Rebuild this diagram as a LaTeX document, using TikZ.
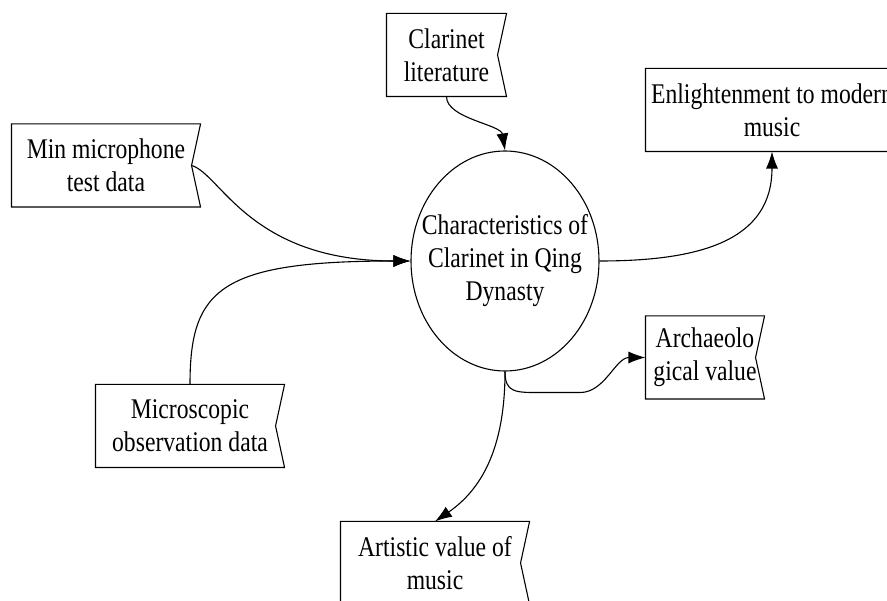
\documentclass[tikz,border=0pt]{standalone}
\usepackage{fontspec}
\setmainfont[FakeStretch=0.83]{Liberation Serif}
\usetikzlibrary{arrows.meta, calc, shapes.geometric}

\begin{document}
\begin{tikzpicture}[
    x=1pt, y=-1pt, % pixel units, y going down
    >={Latex[length=17pt, width=12pt]}, % filled arrow tips
    line width=1.1pt,
    boxtext/.style={align=center, font=\fontsize{28.5}{33}\selectfont},
    flagbox/.style={boxtext, rectangle, inner sep=0pt, minimum height=82pt},
    arrowstyle/.style={->}
]

    % Frame of the picture
    \useasboundingbox (0,0) rectangle (887,601);
    \clip (0,0) rectangle (887,601);

    % Data sources and results (flag shaped boxes)
    \node[flagbox, minimum width=188pt] (mic) at (106,165.5) {Min microphone\\test data};
    \node[flagbox, minimum width=119pt] (lit) at (446.5,55) {Clarinet\\literature};
    \node[flagbox, minimum width=252pt] (enl) at (772,110) {Enlightenment to modern\\music};
    \node[flagbox, minimum width=118pt] (arc) at (705,357.5) {Archaeolo\\gical value};
    \node[flagbox, minimum width=188pt] (obs) at (190,426) {Microscopic\\observation data};
    \node[flagbox, minimum width=188pt] (art) at (435,563) {Artistic value of\\music};

    % Central process
    \node[draw, ellipse, boxtext, inner xsep=-22pt, inner ysep=0pt,
          minimum width=188pt, minimum height=220pt] (qing) at (505,261)
        {Characteristics of\\Clarinet in Qing\\Dynasty};

    % Flag outlines, notch on the right side
    \foreach \n in {mic, lit, enl, arc, obs, art}
        \draw (\n.north west) -- (\n.north east) -- ($(\n.east)+(-9,0)$) -- (\n.south east) -- (\n.south west) -- cycle;

    \coordinate (mic-notch) at ($(mic.east)+(-9,0)$);

    % Inputs
    \draw[arrowstyle] (mic-notch) .. controls +(29,8) and +(-161,0) .. (qing.west);
    \draw[arrowstyle] (obs.north) .. controls +(0,-95) and +(-191,0) .. (qing.west);
    \draw[arrowstyle] (lit.south) .. controls +(0,22) and +(-4,-26) .. (qing.north);

    % Outputs
    \draw[arrowstyle] (qing.east) .. controls +(101,0) and +(0,89) .. (enl.south);
    \draw[arrowstyle] (qing.south) .. controls +(0,21) and +(-25,0) .. ++(35,21) -- ++(40,0)
        .. controls +(25,0) and +(-30,0) .. (arc.west);
    \draw[arrowstyle] (qing.south) .. controls +(0,79) and +(45,-31) .. (art.north);

\end{tikzpicture}
\end{document}
